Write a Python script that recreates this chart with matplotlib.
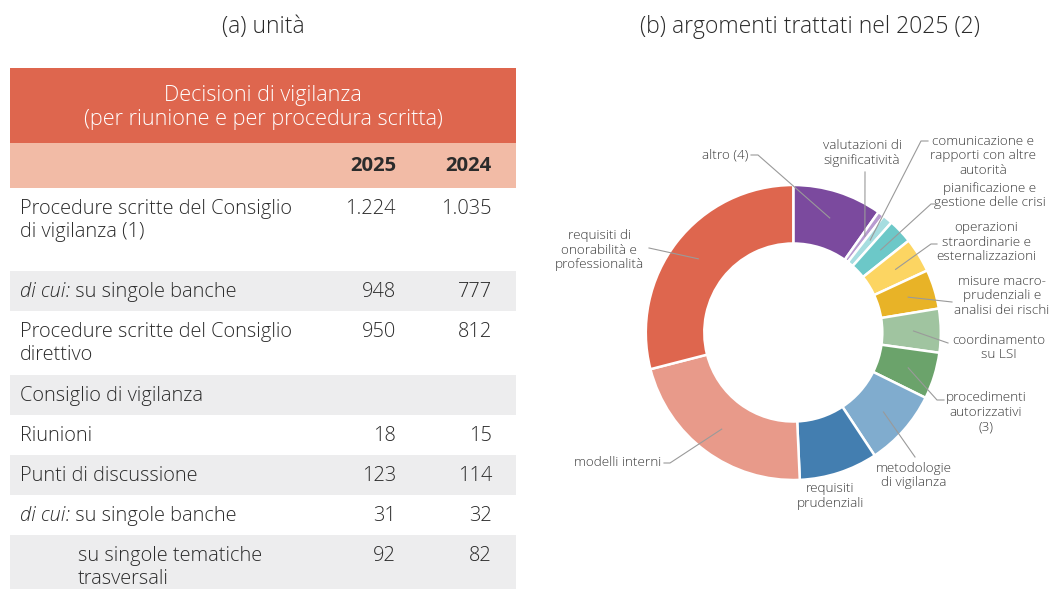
import matplotlib
matplotlib.use("Agg")
import matplotlib.pyplot as plt
from matplotlib.patches import Rectangle
import numpy as np

plt.rcParams['font.family'] = ['Open Sans', 'DejaVu Sans']

# ---------------- data ----------------
title_a = "(a) unità"
title_b = "(b) argomenti trattati nel 2025 (2)"
table_title = ["Decisioni di vigilanza", "(per riunione e per procedura scritta)"]
years = ["2025", "2024"]
row_labels = [
    ["Procedure scritte del Consiglio", "di vigilanza (1)"],
    ["di cui:| su singole banche"],
    ["Procedure scritte del Consiglio", "direttivo"],
    ["Consiglio di vigilanza"],
    ["Riunioni"],
    ["Punti di discussione"],
    ["di cui:| su singole banche"],
    ["su singole tematiche", "trasversali"],
]
values_2025 = ["1.224", "948", "950", "", "18", "123", "31", "92"]
values_2024 = ["1.035", "777", "812", "", "15", "114", "32", "82"]

topics = ["altro (4)", "valutazioni di\nsignificatività",
          "comunicazione e\nrapporti con altre\nautorità",
          "pianificazione e\ngestione delle crisi",
          "operazioni\nstraordinarie e\nesternalizzazioni",
          "misure macro-\nprudenziali e\nanalisi dei rischi",
          "coordinamento\nsu LSI", "procedimenti\nautorizzativi\n(3)",
          "metodologie\ndi vigilanza", "requisiti\nprudenziali",
          "modelli interni", "requisiti di\nonorabilità e\nprofessionalità"]
shares = [9.8, 0.7, 1.1, 2.7, 3.8, 4.3, 4.8, 5.1, 8.4, 8.6, 21.7, 29.0]
colors = ["#7B4A9E", "#B89BD0", "#A6DDE0", "#6CC8C8", "#FCD562", "#E8B327",
          "#A0C4A0", "#6BA36B", "#80ACCE", "#437EB0", "#E89A8A", "#DE664E"]

# ---------------- layout ----------------
W, H = 1052, 589
fig = plt.figure(figsize=(W / 100, H / 100), dpi=100)
ax = fig.add_axes([0, 0, 1, 1])
ax.set_xlim(0, W)
ax.set_ylim(H, 0)
ax.axis('off')
ax.set_zorder(3)

TXT = "#2b2b2b"
fs_title = 16.6
fs_head = 15.6
fs_tab = 14.4
fs_lab = 9.7
LW = 'light'

ax.text(263, 27, title_a, ha='center', va='center', fontsize=fs_title, color=TXT, fontweight=LW)
ax.text(810, 27, title_b, ha='center', va='center', fontsize=fs_title, color=TXT, fontweight=LW)

# table
x0, x1 = 10, 516
ax.add_patch(Rectangle((x0, 68), x1 - x0, 75, color="#DE664E", lw=0))
ax.add_patch(Rectangle((x0, 143), x1 - x0, 45, color="#F2BBA6", lw=0))
ax.text(263, 96, table_title[0], ha='center', va='center', fontsize=fs_head, color='white', fontweight=LW)
ax.text(263, 120, table_title[1], ha='center', va='center', fontsize=fs_head, color='white', fontweight=LW)
col_x = [396, 492]
for cx_, yr in zip(col_x, years):
    ax.text(cx_, 166, yr, ha='right', va='center', fontsize=14.6, color=TXT, fontweight='bold')

row_tops = [188, 271, 311, 375, 415, 455, 495, 535, 589]
fig.canvas.draw()
renderer = fig.canvas.get_renderer()
inv = ax.transData.inverted()
for i, lines in enumerate(row_labels):
    top, bot = row_tops[i], row_tops[i + 1]
    if i % 2 == 1:
        ax.add_patch(Rectangle((x0, top), x1 - x0, bot - top, color="#EDEDEE", lw=0))
    y1 = top + 21
    lx = 78 if i == 7 else 20
    for k, line in enumerate(lines):
        yy = y1 + 23.5 * k
        if "|" in line:
            it, rest = line.split("|")
            t = ax.text(lx, yy, it, ha='left', va='center', fontsize=fs_tab, color=TXT,
                        style='italic', fontweight=LW)
            bb = t.get_window_extent(renderer=renderer)
            xend = inv.transform((bb.x1, bb.y0))[0]
            ax.text(xend, yy, rest, ha='left', va='center', fontsize=fs_tab, color=TXT, fontweight=LW)
        else:
            ax.text(lx, yy, line, ha='left', va='center', fontsize=fs_tab, color=TXT, fontweight=LW)
    ax.text(col_x[0], y1, values_2025[i], ha='right', va='center', fontsize=fs_tab, color=TXT, fontweight=LW)
    ax.text(col_x[1], y1, values_2024[i], ha='right', va='center', fontsize=fs_tab, color=TXT, fontweight=LW)

# donut
cx, cy, R, Rin = 793.3, 332.5, 147.5, 89
half = 200
pax = fig.add_axes([(cx - half) / W, (H - cy - half) / H, 2 * half / W, 2 * half / H])
pax.set_zorder(1)
wedges, _ = pax.pie(shares, colors=colors, startangle=90, counterclock=False,
                    radius=1, wedgeprops=dict(width=(R - Rin) / R, edgecolor='white', linewidth=1.8))
pax.set_xlim(-half / R, half / R)
pax.set_ylim(-half / R, half / R)
pax.axis('off')

# label layout: (x, y, ha, leader points from text side)
label_pos = [
    (748, 155, 'right', [(751, 155), (758, 155)]),
    (862, 153, 'center', [(865, 172)]),
    (983, 156, 'center', [(928, 141), (921, 141)]),
    (990, 195.5, 'center', [(937, 204), (931, 204)]),
    (986, 242, 'center', [(937, 244), (931, 244)]),
    (1002, 296, 'center', [(952, 302)]),
    (999, 347.5, 'center', [(948, 343)]),
    (986, 412, 'center', [(944, 400), (937, 400)]),
    (914, 475.5, 'center', [(915, 457)]),
    (830, 496, 'center', None),
    (661, 463, 'right', [(664, 463), (670, 463)]),
    (599, 250, 'center', [(649, 248)]),
]

fig.canvas.draw()
inv = ax.transData.inverted()
for w, name, (tx, ty, ha, pts) in zip(wedges, topics, label_pos):
    ax.text(tx, ty, name, ha=ha, va='center', fontsize=fs_lab, color="#3a3a3a",
            linespacing=1.16, multialignment='center', fontweight=LW)
    if pts is None:
        continue
    mid = np.deg2rad((w.theta1 + w.theta2) / 2)
    rr = 0.815
    a = pax.transData.transform((rr * np.cos(mid), rr * np.sin(mid)))
    axp = inv.transform(a)
    xs = [p[0] for p in pts] + [axp[0]]
    ys = [p[1] for p in pts] + [axp[1]]
    ax.plot(xs, ys, color="#9a9a9a", lw=0.8, zorder=5)

fig.savefig("out.png", dpi=100)
